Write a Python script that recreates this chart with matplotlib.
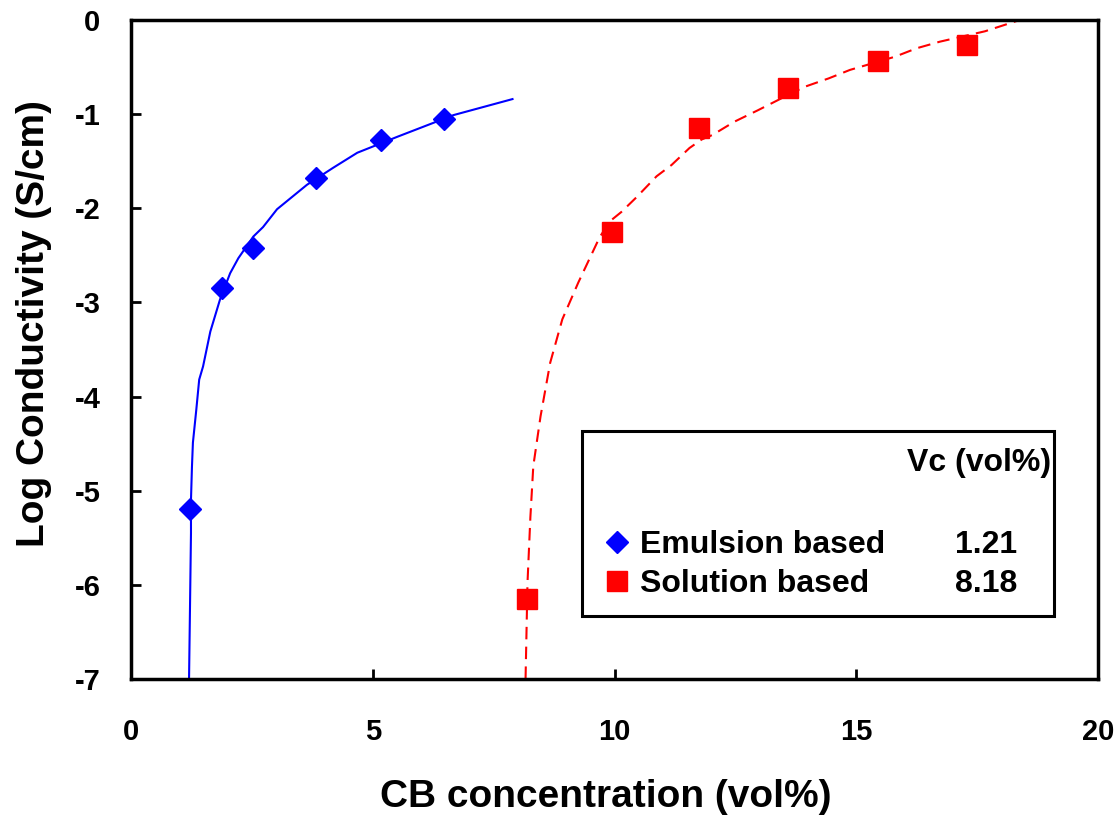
import matplotlib
matplotlib.use("Agg")
import matplotlib.pyplot as plt
from matplotlib.lines import Line2D
from matplotlib.patches import Rectangle

# ---- data ----
emul_x = [1.22, 1.88, 2.53, 3.83, 5.18, 6.48]
emul_y = [-5.19, -2.85, -2.42, -1.68, -1.27, -1.05]
sol_x = [8.20, 9.94, 11.74, 13.58, 15.45, 17.30]
sol_y = [-6.15, -2.25, -1.15, -0.72, -0.44, -0.27]

emul_fit_x = [1.20, 1.22, 1.24, 1.24, 1.26, 1.28, 1.35, 1.41, 1.49, 1.64, 1.84,
              2.05, 2.22, 2.53, 2.73, 3.02, 3.64, 4.18, 4.68, 5.51, 6.67, 7.89]
emul_fit_y = [-7.0, -6.23, -5.45, -5.10, -4.75, -4.49, -4.14, -3.82, -3.68, -3.31, -2.97,
              -2.69, -2.53, -2.30, -2.20, -2.01, -1.75, -1.57, -1.41, -1.24, -1.01, -0.84]
sol_fit_x = [8.16, 8.20, 8.26, 8.32, 8.47, 8.67, 8.92, 9.25, 9.69, 9.90, 10.14, 10.46,
             10.87, 11.18, 11.55, 11.80, 12.03, 12.48, 12.96, 13.46, 13.93, 14.43,
             14.87, 15.80, 16.25, 16.73, 17.66, 18.38]
sol_fit_y = [-7.0, -5.98, -5.28, -4.74, -4.21, -3.64, -3.18, -2.79, -2.31, -2.14, -2.04, -1.88,
             -1.66, -1.54, -1.36, -1.27, -1.22, -1.08, -0.96, -0.83, -0.71, -0.62,
             -0.53, -0.39, -0.30, -0.23, -0.12, 0.0]

series_names = ["Emulsion based", "Solution based"]
vc_values = ["1.21", "8.18"]
x_ticks = [0, 5, 10, 15, 20]
y_ticks = [0, -1, -2, -3, -4, -5, -6, -7]

plt.rcParams['font.family'] = ['Liberation Sans', 'DejaVu Sans']
plt.rcParams['font.weight'] = 'bold'

fig = plt.figure(figsize=(11.17, 8.17), dpi=100)
ax = fig.add_axes([0.1173, 0.169, 0.8657, 0.8065])

ax.plot(emul_fit_x, emul_fit_y, color='#0000FF', lw=1.5, zorder=2)
ax.plot(sol_fit_x, sol_fit_y, color='#FF0000', lw=1.5, ls=(0, (6, 3.5)), zorder=2)
ax.plot(emul_x, emul_y, ls='none', marker='D', ms=11, color='#0000FF', zorder=3)
ax.plot(sol_x, sol_y, ls='none', marker='s', ms=14, color='#FF0000', zorder=3)

ax.set_xlim(0, 20)
ax.set_ylim(-7, 0)
ax.set_xticks(x_ticks)
ax.set_yticks(y_ticks)
ax.set_xticklabels([str(v) for v in x_ticks])
ax.set_yticklabels([str(v) for v in y_ticks])
ax.tick_params(direction='in', length=7, width=2, labelsize=21)
ax.tick_params(axis='y', pad=22)
ax.tick_params(axis='x', pad=28)
for sp in ax.spines.values():
    sp.set_linewidth(2.5)

ax.set_xlabel("CB concentration (vol%)", fontsize=28, fontweight='bold', labelpad=24)
ax.set_ylabel("Log Conductivity (S/cm)", fontsize=28, fontweight='bold', labelpad=16)
ax.xaxis.label.set_x(0.491)
ax.yaxis.label.set_y(0.54)

# legend box
box = Rectangle((9.33, -6.33), 9.77, 1.96, fill=False, lw=2.2, ec='black', zorder=4)
ax.add_patch(box)
ax.text(19.03, -4.71, "Vc (vol%)", fontsize=23, fontweight='bold', ha='right', va='center', zorder=5)
handles = [Line2D([], [], ls='none', marker='D', ms=11, color='#0000FF'),
           Line2D([], [], ls='none', marker='s', ms=14, color='#FF0000')]
leg = ax.legend(handles, series_names, loc='center left', bbox_to_anchor=(0.493, 0.174),
                frameon=False, fontsize=23, handlelength=0.6, handletextpad=0.4,
                labelspacing=0.28, borderaxespad=0, borderpad=0)
for t in leg.get_texts():
    t.set_fontweight('bold')
for i, v in enumerate(vc_values):
    ax.text(17.68, -5.58 - 0.41 * i, v, fontsize=23, fontweight='bold', ha='center', va='center', zorder=5)

fig.savefig("out.png", dpi=100)
